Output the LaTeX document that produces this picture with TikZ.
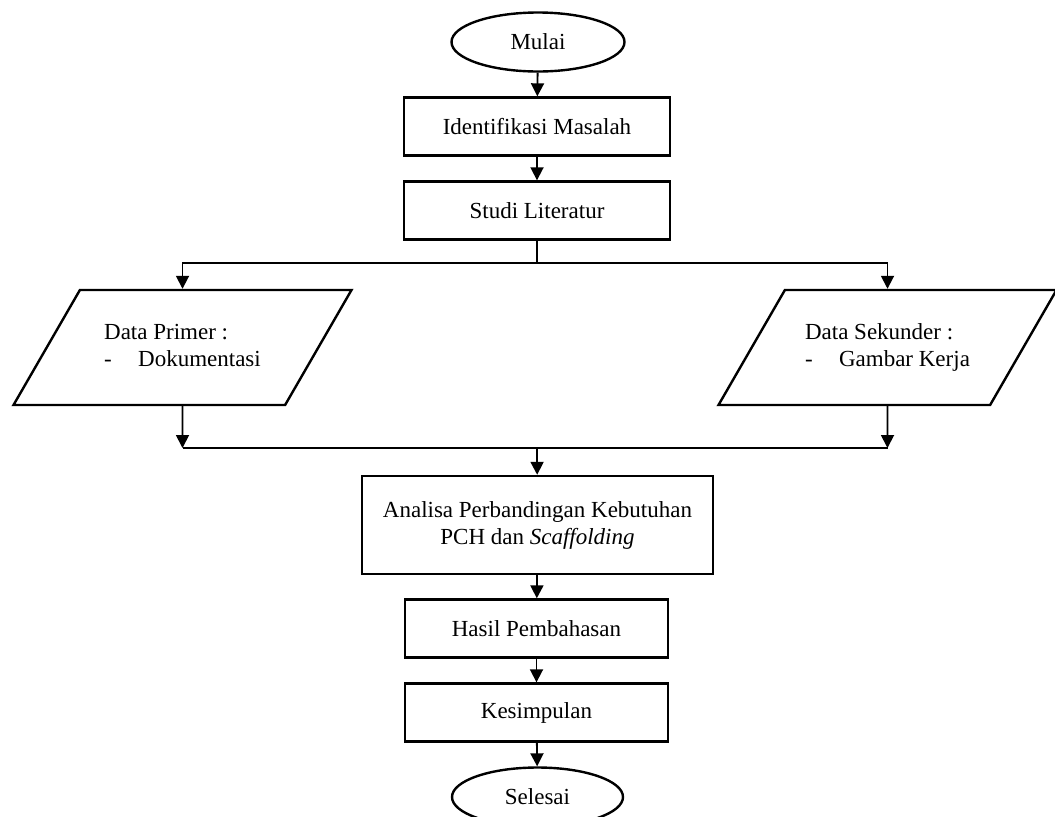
\documentclass[tikz,border=0pt]{standalone}
\usepackage{fontspec}
\setmainfont{Liberation Serif}
\usepackage{tikz}
\usetikzlibrary{shapes.geometric,arrows.meta}

\begin{document}
\begin{tikzpicture}[x=0.5pt,y=-0.5pt]
						\tikzstyle{every node}+=[inner sep=0pt, font=\fontsize{11.5}{13.5}\selectfont]
						\tikzstyle{terminal}=[draw, line width=1.2pt, ellipse, minimum width=86.5pt, minimum height=29.5pt]
						\tikzstyle{process}=[draw, line width=1.2pt, rectangle, minimum width=133pt, minimum height=29pt, align=center]
						\tikzstyle{datain}=[draw, line width=1.2pt, trapezium, trapezium left angle=60, trapezium right angle=120, trapezium stretches body=true, inner ysep=15.25pt, minimum width=169pt, align=left]
						\tikzstyle{arr}=[line width=0.9pt, -{Triangle[width=6.5pt,length=6.5pt]}]
						\tikzstyle{line}=[line width=0.9pt]
						\useasboundingbox (0,0) rectangle (1055,816);
						\node [terminal] (mulai) at (538,42) {Mulai};
						\node [process] (identifikasi) at (537,126.5) {Identifikasi Masalah};
						\node [process] (studi) at (537,210.5) {Studi Literatur};
						\node [datain] (primer) at (182.5,347.5) {\strut Data Primer :\\\makebox[17pt][l]{-}Dokumentasi\strut};
						\node [datain] (sekunder) at (887.5,347.5) {\strut Data Sekunder :\\\makebox[17pt][l]{-}Gambar Kerja\strut};
						\node [process, minimum width=175.5pt, minimum height=49pt] (analisa) at (537.5,525) {Analisa Perbandingan Kebutuhan\\PCH dan \textit{Scaffolding}};
						\node [process, minimum width=131.5pt] (hasil) at (536.5,628.5) {Hasil Pembahasan};
						\node [process, minimum width=131.5pt] (kesimpulan) at (536.5,712.5) {Kesimpulan};
						\node [terminal, minimum width=85.5pt] (selesai) at (537.5,797) {Selesai};
						\coordinate (cabang) at (537,263);
						\coordinate (gabung) at (537,448);
						\draw [arr] (mulai) -- (identifikasi);
						\draw [arr] (identifikasi) -- (studi);
						\draw [line] (studi) -- (cabang);
						\draw [arr] (cabang) -| (primer);
						\draw [arr] (cabang) -| (sekunder);
						\draw [arr] (primer) -- (primer |- gabung);
						\draw [arr] (sekunder) -- (sekunder |- gabung);
						\draw [line] (primer |- gabung) -- (sekunder |- gabung);
						\draw [arr] (gabung) -- (analisa);
						\draw [arr] (analisa) -- (hasil);
						\draw [arr] (hasil) -- (kesimpulan);
						\draw [arr] (kesimpulan) -- (selesai);
					\end{tikzpicture}
\end{document}
